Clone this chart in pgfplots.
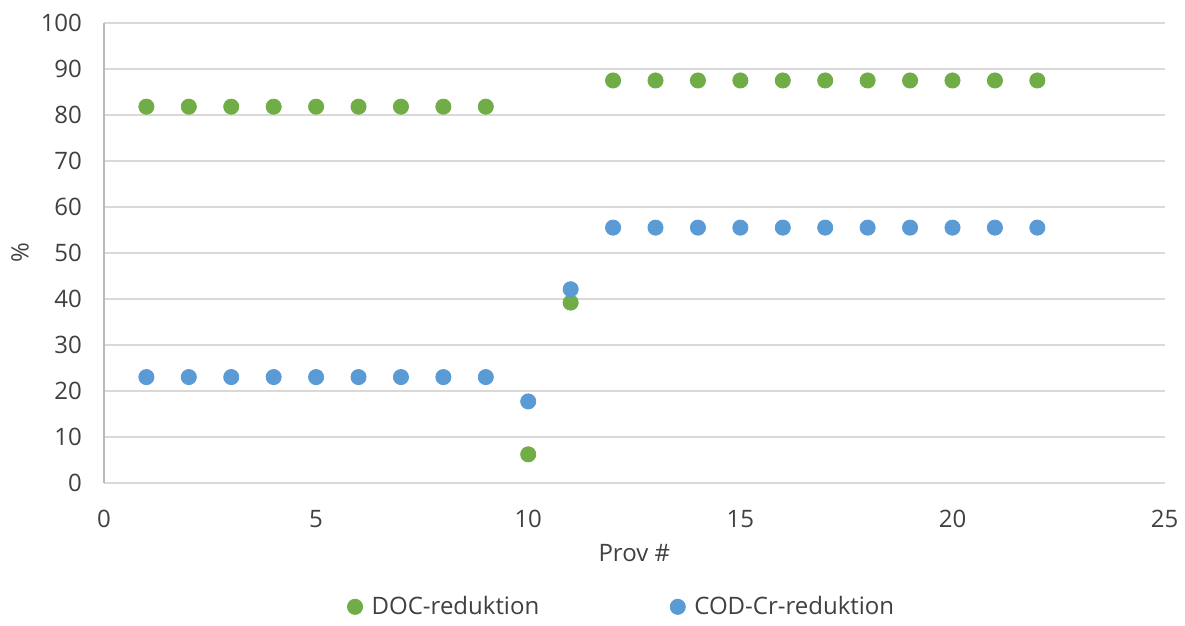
\documentclass[border=0pt]{standalone}
\usepackage{pgfplots}
\pgfplotsset{compat=1.18}
\usepackage{fontspec}
\setmainfont{Open Sans}
\definecolor{docg}{HTML}{70AD47}
\definecolor{codb}{HTML}{5B9BD5}
\definecolor{gridc}{HTML}{D9D9D9}
\definecolor{txt}{HTML}{404040}
\begin{document}
\begin{tikzpicture}
\begin{axis}[
  name=a,
  scale only axis,
  width=530.5pt, height=230pt,
  xmin=0, xmax=25, ymin=0, ymax=100,
  xtick={0,5,...,25}, ytick={0,10,...,100},
  ymajorgrids, major grid style={gridc, line width=0.8pt},
  axis line style={draw=none},
  tick style={draw=none},
  every tick label/.append style={font=\fontsize{12}{14}\selectfont, text=txt},
  /pgf/number format/assume math mode=true,
  yticklabel style={xshift=-7.5pt},
  xticklabel style={yshift=-10pt},
  xlabel={Prov \#}, ylabel={\%},
  label style={font=\fontsize{12}{14}\selectfont, text=txt},
  xlabel style={at={(axis description cs:0.5,-0.152)}, anchor=center},
  ylabel style={at={(axis description cs:-0.0792,0.5)}, anchor=center},
  legend style={at={(axis description cs:0.4915,-0.2696)}, anchor=center, draw=none,
    font=\fontsize{12}{14}\selectfont, text=txt,
    /tikz/every even column/.append style={column sep=61pt},
    nodes={inner xsep=4.5pt}},
  legend columns=2,
  legend cell align=left,
  clip=false,
]
\addplot[only marks, mark=*, mark size=3.8pt, mark options={draw=docg, fill=docg}] coordinates {
(1,81.8)(2,81.8)(3,81.8)(4,81.8)(5,81.8)(6,81.8)(7,81.8)(8,81.8)(9,81.8)
(10,6.2)(11,39.2)
(12,87.5)(13,87.5)(14,87.5)(15,87.5)(16,87.5)(17,87.5)(18,87.5)(19,87.5)(20,87.5)(21,87.5)(22,87.5)};
\addlegendentry{DOC-reduktion}
\addplot[only marks, mark=*, mark size=3.8pt, mark options={draw=codb, fill=codb}] coordinates {
(1,23.0)(2,23.0)(3,23.0)(4,23.0)(5,23.0)(6,23.0)(7,23.0)(8,23.0)(9,23.0)
(10,17.7)(11,42.1)
(12,55.5)(13,55.5)(14,55.5)(15,55.5)(16,55.5)(17,55.5)(18,55.5)(19,55.5)(20,55.5)(21,55.5)(22,55.5)};
\addlegendentry{COD-Cr-reduktion}
\end{axis}
\draw[color=gray!55, line width=0.8pt] (a.south west) -- (a.north west);
\path (a.south west) +(-52pt,-68pt) (a.north east) +(10pt,11.5pt);
\end{tikzpicture}
\end{document}
